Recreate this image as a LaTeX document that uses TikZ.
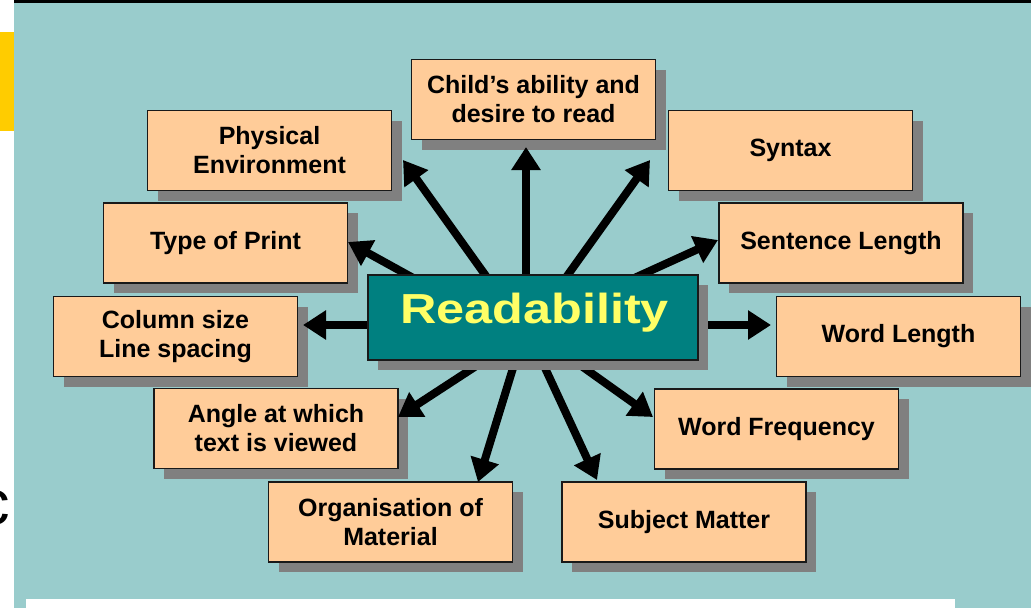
\documentclass[tikz,border=0pt]{standalone}
\usepackage{fontspec}
\setmainfont{Liberation Sans}
\usetikzlibrary{arrows.meta,shadows}
\definecolor{bgteal}{RGB}{153,204,204}
\definecolor{boxfill}{RGB}{255,204,153}
\definecolor{shadowgray}{RGB}{128,128,128}
\definecolor{rteal}{RGB}{0,128,128}
\definecolor{ryellow}{RGB}{255,255,102}
\definecolor{baryellow}{RGB}{255,204,0}
\begin{document}
\begin{tikzpicture}[x=1pt,y=-1pt,
  factorbox/.style={draw=black!90, line width=1.5pt, fill=boxfill,
    minimum width=244pt, minimum height=80pt, inner sep=0pt, align=center,
    font=\bfseries\fontsize{25}{29}\selectfont, text=black,
    drop shadow={fill=shadowgray, opacity=1, shadow xshift=10pt, shadow yshift=-10pt}},
  mainbox/.style={draw=black!90, line width=1.5pt, fill=rteal,
    minimum width=330pt, minimum height=85pt, inner sep=0pt,
    drop shadow={fill=shadowgray, opacity=1, shadow xshift=10pt, shadow yshift=-10pt}},
  maintext/.style={inner sep=0pt, text=ryellow, font=\bfseries\fontsize{42}{48}\selectfont},
  bigarrow/.style={line width=8pt, -{Triangle[length=23pt,width=28pt]}},
]
\useasboundingbox (0,0) rectangle (1031,608);
% frame
\fill[white] (0,0) rectangle (1031,608);
\fill[bgteal] (14,3) rectangle (1031,608);
\fill[black] (14,0) rectangle (1031,3);
\fill[white] (26,599) rectangle (955,608);
\fill[baryellow] (0,31.5) rectangle (14,131);
\begin{scope}
  \clip (0,0) rectangle (14,608);
  \node[anchor=base east, inner sep=0pt, font=\fontsize{63}{70}\selectfont] (cc) at (10,524) {c};
\end{scope}

% factor boxes
\node[factorbox] (child) at (533.5,99.5) {Child’s ability and\\desire to read};
\node[factorbox] (phys) at (269.5,150.5) {Physical\\Environment};
\node[factorbox] (syntax) at (790.5,150.5) {Syntax};
\node[factorbox] (type) at (225.5,243) {Type of Print};
\node[factorbox] (sent) at (841,243) {Sentence Length};
\node[factorbox] (column) at (175.5,336.5) {Column size\\Line spacing};
\node[factorbox] (wordlen) at (898.5,336.5) {Word Length};
\node[factorbox] (angle) at (276,428.5) {Angle at which\\text is viewed};
\node[factorbox] (wordfreq) at (776.5,429) {Word Frequency};
\node[factorbox] (org) at (390.5,522) {Organisation of\\Material};
\node[factorbox] (subject) at (684,522) {Subject Matter};

% arrow end points
\coordinate (sChild) at (526,290);   \coordinate (eChild) at (526,147);
\coordinate (sPhys) at (496,290);    \coordinate (ePhys) at (403,160);
\coordinate (sSyn) at (557,290);     \coordinate (eSyn) at (650,160);
\coordinate (sType) at (435,290);    \coordinate (eType) at (348,242);
\coordinate (sSent) at (608,290);    \coordinate (eSent) at (718,240);
\coordinate (sCol) at (390,325);     \coordinate (eCol) at (303,325);
\coordinate (sWL) at (680,325);      \coordinate (eWL) at (771,325);
\coordinate (sAng) at (493,355);     \coordinate (eAng) at (398,417);
\coordinate (sOrg) at (517,355);     \coordinate (eOrg) at (478,482);
\coordinate (sSub) at (539,355);     \coordinate (eSub) at (597,480);
\coordinate (sWF) at (566,355);      \coordinate (eWF) at (653,417);

\foreach \n in {Child,Phys,Syn,Type,Sent,Col,WL,Ang,Org,Sub,WF}
  \draw[bigarrow] (s\n) -- (e\n);

% central box
\node[mainbox] (R) at (533,317.5) {};
\node[maintext, anchor=base] (Rtext) at (534.5,323) {\scalebox{1.2}[1]{Readability}};
\end{tikzpicture}
\end{document}
